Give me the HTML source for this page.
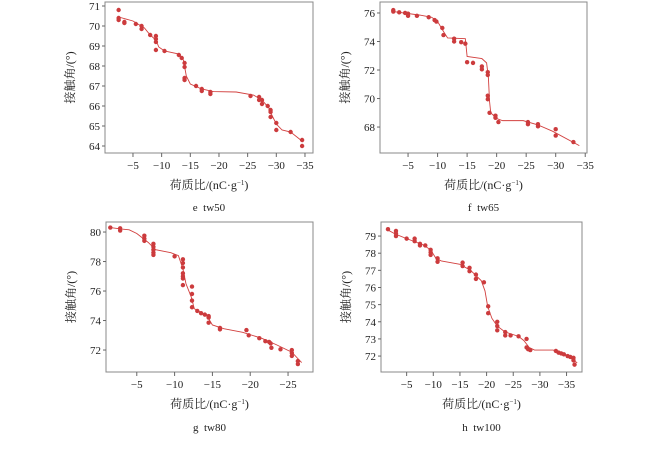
<!DOCTYPE html>
<html><head><meta charset="utf-8"><style>
html,body{margin:0;padding:0;background:#fff;}
svg{display:block;font-family:"Liberation Serif","Noto Serif CJK SC",serif;}
</style></head><body>
<svg id="c" width="666" height="451" viewBox="0 0 666 451"></svg>
<script>
// Panel e tw50
const eX=[-2.5,-2.5,-2.5,-3.5,-3.5,-5.5,-6.5,-6.5,-8,-9,-9,-9,-9,-10.5,-13,-13.5,-14,-14,-14,-14,-16,-17,-17,-18.5,-18.5,-25.5,-27,-27,-27.5,-27.5,-28.5,-29,-29,-29,-30,-30,-32.5,-34.5,-34.5];
const eY=[70.8,70.4,70.3,70.2,70.15,70.1,70.0,69.85,69.55,69.5,69.35,69.2,68.8,68.75,68.55,68.4,68.15,67.95,67.4,67.3,67.0,66.85,66.75,66.7,66.6,66.5,66.45,66.3,66.3,66.1,66.0,65.8,65.7,65.45,65.15,64.8,64.7,64.3,64.0];
const eCX=[-2.5,-5,-7,-8,-9,-9.5,-10.5,-13,-13.8,-14.3,-15,-17,-19,-23,-26,-27.5,-28.7,-29.3,-30,-31,-32.5,-34.7];
const eCY=[70.45,70.25,69.9,69.55,69.3,68.95,68.75,68.6,68.3,67.5,67.1,66.85,66.72,66.7,66.55,66.3,65.9,65.5,65.1,64.8,64.7,64.2];
const eXT=[-5,-10,-15,-20,-25,-30,-35];
const eYT=[64,65,66,67,68,69,70,71];
// Panel f tw65
const fX=[-2.5,-2.5,-3.5,-4.5,-5,-5,-6.5,-8.5,-9.5,-9.8,-10.8,-11,-12.8,-12.8,-14,-14.7,-15,-16,-17.5,-17.5,-18.5,-18.5,-18.5,-18.5,-18.8,-19.8,-19.8,-20.3,-25.3,-25.3,-27,-27,-30,-30,-33];
const fY=[76.2,76.1,76.05,76.0,75.95,75.8,75.8,75.7,75.5,75.4,74.95,74.45,74.2,74.0,73.95,73.85,72.55,72.5,72.25,72.05,71.85,71.65,70.2,69.95,69.0,68.8,68.65,68.35,68.35,68.2,68.2,68.05,67.85,67.4,66.95];
const fCX=[-2.5,-7,-9,-10,-11,-11.7,-14.7,-15,-17.5,-18.3,-18.6,-18.8,-19,-20,-21,-24.5,-27,-29.5,-34];
const fCY=[76.1,75.85,75.7,75.4,74.7,74.25,74.2,72.95,72.8,72.5,71.5,69.8,69.0,68.6,68.45,68.45,68.15,67.7,66.7];
const fXT=[-5,-10,-15,-20,-25,-30,-35];
const fYT=[68,70,72,74,76];
// Panel g tw80
const gX=[-1.5,-2.8,-2.8,-6,-6,-6,-7.2,-7.2,-7.2,-7.2,-7.2,-10,-11.1,-11.1,-11.1,-11.1,-11.1,-11.1,-11.1,-12.3,-12.3,-12.3,-12.3,-13,-13.5,-14,-14.5,-14.5,-14.5,-16,-16,-19.5,-19.8,-21.2,-22,-22.5,-22.7,-22.8,-24,-25.5,-25.5,-25.5,-26.3,-26.3];
const gY=[80.3,80.25,80.1,79.75,79.55,79.4,79.2,79.0,78.8,78.6,78.45,78.35,78.15,77.9,77.6,77.2,77.0,76.85,76.4,76.3,75.8,75.35,74.9,74.65,74.5,74.4,74.3,74.2,73.85,73.5,73.4,73.35,73.0,72.8,72.6,72.55,72.45,72.15,72.05,72.0,71.8,71.6,71.25,71.05];
const gCX=[-1.5,-3,-4,-5,-6.5,-7.5,-9.5,-10.5,-11.1,-11.5,-12.2,-12.6,-13.5,-14.3,-15,-16.5,-19,-21.5,-23.5,-25.5,-26.8];
const gCY=[80.3,80.2,80.15,79.9,79.3,78.8,78.6,78.4,77.5,76.5,75.6,74.8,74.55,74.3,73.7,73.45,73.2,72.8,72.35,71.85,71.15];
const gXT=[-5,-10,-15,-20,-25];
const gYT=[72,74,76,78,80];
// Panel h tw100
const hX=[-1.5,-3,-3,-3,-5,-6.5,-6.5,-7.5,-7.5,-8.5,-9.5,-9.5,-9.5,-10.8,-10.8,-15.5,-15.5,-16.8,-16.8,-18,-18,-19.5,-20.3,-20.3,-22,-22,-22,-23.5,-23.5,-24.5,-26,-27.5,-27.5,-27.8,-28.2,-33,-33.5,-34,-34.5,-35.2,-35.7,-36.3,-36.3,-36.5];
const hY=[79.4,79.3,79.15,79.0,78.85,78.85,78.7,78.55,78.45,78.45,78.2,78.05,77.9,77.7,77.5,77.45,77.25,77.15,76.95,76.75,76.5,76.3,74.9,74.5,74.0,73.75,73.5,73.4,73.2,73.2,73.15,73.0,72.5,72.4,72.35,72.3,72.2,72.15,72.1,72.0,71.95,71.9,71.75,71.5];
const hCX=[-1.5,-3,-5,-8,-9.5,-10.5,-11.5,-15,-17,-19,-19.7,-20.2,-21,-22,-23.5,-26,-27,-28,-29,-32.5,-35,-37];
const hCY=[79.35,79.1,78.85,78.5,78.2,77.7,77.55,77.35,77.0,76.4,75.8,74.9,74.2,73.75,73.4,73.15,72.9,72.5,72.35,72.35,72.05,71.6];
const hXT=[-5,-10,-15,-20,-25,-30,-35];
const hYT=[72,73,74,75,76,77,78,79];

const NS='http://www.w3.org/2000/svg';
const svg=document.getElementById('c');
function mk(tag,attrs,parent){const e=document.createElementNS(NS,tag);for(const k in attrs)e.setAttribute(k,attrs[k]);(parent||svg).appendChild(e);return e;}

function panel(id,cap,box,xd,yd,px,py,cx,cy,xt,yt,lblY,capY){
  const g=mk('g',{});
  
  
  const [L,R,T,B]=box;
  const sx=v=>L+(v-xd[0])/(xd[1]-xd[0])*(R-L);
  const sy=v=>B-(v-yd[0])/(yd[1]-yd[0])*(B-T);
  const fr=mk('rect',{x:L,y:T,width:R-L,height:B-T,fill:'none',stroke:'#888','stroke-width':1},g);
  
  
  xt.forEach(v=>{
    const x=sx(v);
    const t=mk('line',{x1:x,x2:x,y1:B,y2:B+4,stroke:'#666'},g);
    
    
    const tx=mk('text',{x:x,y:B+16,'text-anchor':'middle','font-size':11,fill:'#222'},g);
    tx.textContent='\u2212'+Math.abs(v);
    
    
  });
  yt.forEach(v=>{
    const y=sy(v);
    const t=mk('line',{x1:L-3,x2:L,y1:y,y2:y,stroke:'#666'},g);
    
    
    const tx=mk('text',{x:L-5,y:y+4,'text-anchor':'end','font-size':11,fill:'#222'},g);
    tx.textContent=v;
    
    
  });
  const line=mk('polyline',{points:cx.map((v,i)=>sx(v)+','+sy(cy[i])).join(' '),fill:'none',stroke:'#d2403f','stroke-width':0.9},g);
  
  
  px.forEach((v,i)=>{
    const c=mk('circle',{cx:sx(v),cy:sy(py[i]),r:2.2,fill:'#cc3b3d'},g);
    
    
  });
  const midY=(T+B)/2;
  const yl=mk('text',{x:0,y:0,transform:'translate('+(L-31)+','+midY+') rotate(-90)','text-anchor':'middle','font-size':12,fill:'#222'},g);
  yl.textContent='接触角/(°)';
  
  
  const xl=mk('text',{x:(L+R)/2,y:lblY,'text-anchor':'middle','font-size':12,fill:'#222'},g);
  xl.innerHTML='荷质比/(nC·g<tspan dy="-4" font-size="7">−1</tspan><tspan dy="4">)</tspan>';
  
  
  const cp=mk('text',{x:(L+R)/2,y:capY,'text-anchor':'middle','font-size':11,fill:'#222'},g);
  cp.textContent=cap;
  
  
}
panel('e','e\u00a0\u00a0tw50',[105,313,2,153],[-0.12,-36.4],[63.65,71.2],eX,eY,eCX,eCY,eXT,eYT,189,211);
panel('f','f\u00a0\u00a0tw65',[380,587,2,153],[-0.25,-35.3],[66.18,76.77],fX,fY,fCX,fCY,fXT,fYT,189,211);
panel('g','g\u00a0\u00a0tw80',[106,313,222,372],[-0.93,-28.3],[70.51,80.68],gX,gY,gCX,gCY,gXT,gYT,408,431);
panel('h','h\u00a0\u00a0tw100',[381,582,222,372],[-0.19,-37.9],[71.07,79.82],hX,hY,hCX,hCY,hXT,hYT,408,431);
</script>
</body></html>
